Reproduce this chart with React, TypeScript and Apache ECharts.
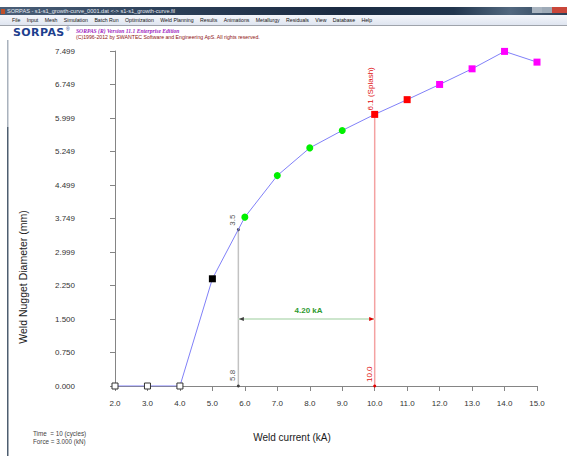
import React, { useEffect, useRef } from "react";
import * as echarts from "echarts";

// ---- data ----
const currents = [2, 3, 4, 5, 6, 7, 8, 9, 10, 11, 12, 13, 14, 15];
const diameters = [0, 0, 0, 2.4, 3.78, 4.71, 5.33, 5.72, 6.08, 6.41, 6.75, 7.1, 7.49, 7.25];
const pointKinds = [
  "none", "none", "none", "small", "good", "good", "good", "good",
  "splash", "splash", "expulsion", "expulsion", "expulsion", "expulsion",
];
const xTickLabels = ["2.0", "3.0", "4.0", "5.0", "6.0", "7.0", "8.0", "9.0", "10.0", "11.0", "12.0", "13.0", "14.0", "15.0"];
const yTickLabels = ["0.000", "0.750", "1.500", "2.250", "2.999", "3.749", "4.499", "5.249", "5.999", "6.749", "7.499"];
const minCurrent = 5.8;
const minDiameter = 3.5;
const splashCurrent = 10.0;
const splashDiameter = 6.08;
const rangeLevel = 1.5;
const rangeText = "4.20 kA";
const minDiameterText = "3.5";
const minCurrentText = "5.8";
const splashCurrentText = "10.0";
const splashText = "6.1 (Splash)";
const infoLines = ["Time  = 10 (cycles)", "Force = 3.000 (kN)"];
const menuItems = [
  "File", "Input", "Mesh", "Simulation", "Batch Run", "Optimization", "Weld Planning",
  "Results", "Animations", "Metallurgy", "Residuals", "View", "Database", "Help",
];
const windowTitle = "SORPAS - s1-s1_growth-curve_0001.dat <-> s1-s1_growth-curve.fil";
const versionText = "SORPAS (R) Version 11.1 Enterprise Edition";
const copyrightText = "(C)1996-2012 by SWANTEC Software and Engineering ApS. All rights reserved.";

const kindStyles: Record<string, { symbol: string; color: string; border: string; bw: number }> = {
  none: { symbol: "rect", color: "#ffffff", border: "#333333", bw: 1 },
  small: { symbol: "rect", color: "#000000", border: "#000000", bw: 0 },
  good: { symbol: "circle", color: "#00f000", border: "#00f000", bw: 0 },
  splash: { symbol: "rect", color: "#ff0000", border: "#ff0000", bw: 0 },
  expulsion: { symbol: "rect", color: "#ff00ff", border: "#ff00ff", bw: 0 },
};

const FONT = '"Liberation Sans", Arial, sans-serif';

export default function App() {
  const ref = useRef<HTMLDivElement>(null);

  useEffect(() => {
    if (!ref.current) return;
    const chart = echarts.init(ref.current, undefined, { renderer: "svg" });
    const yMax = 7.499;
    const yStep = yMax / 10;

    const mainData = currents.map((c, i) => {
      const s = kindStyles[pointKinds[i]];
      return {
        value: [c, diameters[i]],
        symbol: s.symbol,
        symbolSize: s.bw ? 6 : 7,
        itemStyle: { color: s.color, borderColor: s.border, borderWidth: s.bw },
      };
    });

    chart.setOption({
      animation: false,
      backgroundColor: "transparent",
      grid: { left: 115, right: 30, top: 51, bottom: 70 },
      xAxis: {
        type: "value",
        min: 2,
        max: 15,
        interval: 1,
        axisLine: { show: true, onZero: false, lineStyle: { color: "#858585", width: 1 } },
        axisTick: { show: true, length: 5, lineStyle: { color: "#858585" } },
        splitLine: { show: false },
        axisLabel: {
          margin: 13,
          fontSize: 8,
          color: "#333333",
          fontFamily: FONT,
          formatter: (v: number) => xTickLabels[Math.round(v - 2)] ?? "",
        },
      },
      yAxis: {
        type: "value",
        min: 0,
        max: yMax,
        interval: yStep,
        axisLine: { show: true, onZero: false, lineStyle: { color: "#858585", width: 1 } },
        axisTick: { show: true, length: 5, lineStyle: { color: "#858585" } },
        splitLine: { show: false },
        axisLabel: {
          margin: 40,
          fontSize: 8,
          color: "#333333",
          fontFamily: FONT,
          formatter: (v: number) => yTickLabels[Math.round(v / yStep)] ?? "",
        },
      },
      series: [
        {
          type: "line",
          data: [[minCurrent, minDiameter], [minCurrent, 0]],
          lineStyle: { color: "#c2c2c2", width: 1.5 },
          symbol: "circle",
          symbolSize: 3,
          itemStyle: { color: "#404040" },
          z: 2,
          silent: true,
        },
        {
          type: "line",
          data: [[splashCurrent, splashDiameter], [splashCurrent, 0]],
          lineStyle: { color: "#f4a2a2", width: 1.5 },
          symbol: "circle",
          symbolSize: 3,
          itemStyle: { color: "#e00000" },
          z: 2,
          silent: true,
        },
        {
          type: "line",
          data: [
            { value: [minCurrent, rangeLevel], symbol: "triangle", symbolRotate: 90, symbolSize: [4, 5], symbolOffset: [3, 0], itemStyle: { color: "#404040" } },
            { value: [splashCurrent, rangeLevel], symbol: "triangle", symbolRotate: -90, symbolSize: [4, 5], symbolOffset: [-3, 0], itemStyle: { color: "#e00000" } },
          ],
          lineStyle: { color: "#cde6cd", width: 2 },
          z: 2,
          silent: true,
        },
        {
          type: "line",
          data: mainData,
          lineStyle: { color: "#8080f8", width: 1 },
          z: 5,
          silent: true,
        },
      ],
    });

    const px = (x: number, y: number) => chart.convertToPixel({ gridIndex: 0 }, [x, y]) as number[];
    const pMin = px(minCurrent, minDiameter);
    const pMin0 = px(minCurrent, 0);
    const pSp = px(splashCurrent, splashDiameter);
    const pSp0 = px(splashCurrent, 0);
    const pR1 = px(minCurrent, rangeLevel);
    const pR2 = px(splashCurrent, rangeLevel);
    const rot = Math.PI / 2;
    const small = (text: string, x: number, y: number, color: string) => ({
      type: "text",
      x,
      y,
      rotation: rot,
      style: { text, fill: color, fontSize: 8, fontFamily: FONT, align: "left", verticalAlign: "middle" },
      silent: true,
    });

    chart.setOption({
      graphic: [
        { type: "rect", shape: { x: 7, y: 40, width: 1.5, height: 87 }, style: { fill: "#a9b2bd" }, silent: true },
        { type: "rect", shape: { x: 7, y: 127, width: 1.5, height: 329 }, style: { fill: "#4e5e70" }, silent: true },
        {
          type: "text",
          x: 23,
          y: 277,
          rotation: rot,
          style: { text: "Weld Nugget Diameter (mm)", fill: "#1a1a1a", fontSize: 10.5, fontFamily: FONT, align: "center", verticalAlign: "middle" },
          silent: true,
        },
        {
          type: "text",
          x: 292,
          y: 437,
          style: { text: "Weld current (kA)", fill: "#1a1a1a", fontSize: 10, fontFamily: FONT, align: "center", verticalAlign: "middle" },
          silent: true,
        },
        {
          type: "text",
          x: 33,
          y: 433,
          style: { text: infoLines[0], fill: "#444444", fontSize: 6.3, fontFamily: FONT, align: "left", verticalAlign: "middle" },
          silent: true,
        },
        {
          type: "text",
          x: 33,
          y: 441.5,
          style: { text: infoLines[1], fill: "#444444", fontSize: 6.3, fontFamily: FONT, align: "left", verticalAlign: "middle" },
          silent: true,
        },
        small(minDiameterText, pMin[0] - 6, pMin[1] - 4, "#555555"),
        small(minCurrentText, pMin0[0] - 6, pMin0[1] - 5, "#555555"),
        small(splashText, pSp[0] - 4.5, pSp[1] - 4, "#e01010"),
        small(splashCurrentText, pSp0[0] - 5.5, pSp0[1] - 4, "#e01010"),
        {
          type: "text",
          x: (pR1[0] + pR2[0]) / 2 + 2,
          y: pR1[1] - 8,
          style: { text: rangeText, fill: "#2f9a2f", fontSize: 8, fontWeight: "bold", fontFamily: FONT, align: "center", verticalAlign: "middle" },
          silent: true,
        },
      ],
    });

    return () => chart.dispose();
  }, []);

  return (
    <div style={{ position: "absolute", left: 0, top: 0, width: 567, height: 456, background: "#ffffff", overflow: "hidden" }}>
      <div ref={ref} style={{ position: "absolute", left: 0, top: 0, width: 567, height: 456 }} />
      {/* title bar */}
      <div
        style={{
          position: "absolute", left: 0, top: 7, width: 567, height: 8,
          background: "linear-gradient(90deg, #4a5f78 0%, #2b3f58 30%, #1b2b42 60%, #22364e 80%, #52687f 90%, #2a3e56 100%)",
        }}
      >
        <div style={{ position: "absolute", left: 1, top: 1.5, width: 4, height: 5, background: "#c0502a" }} />
        <div style={{ position: "absolute", left: 7, top: 0, height: 8, lineHeight: "8px", fontSize: 5.6, color: "#e6e9f0", fontFamily: FONT, whiteSpace: "nowrap" }}>
          {windowTitle}
        </div>
        <div style={{ position: "absolute", left: 532, top: 0, width: 10, height: 6, background: "#a9b4c0" }} />
        <div style={{ position: "absolute", left: 542, top: 0, width: 10, height: 6, background: "#9eaab7" }} />
        <div style={{ position: "absolute", left: 552, top: 0, width: 15, height: 6, background: "#c9463a" }} />
      </div>
      {/* menu bar */}
      <div
        style={{
          position: "absolute", left: 0, top: 15, width: 567, height: 11,
          background: "linear-gradient(180deg, #f4f6fb 0%, #dfe5f0 100%)",
          borderBottom: "1px solid #9ea3ab",
          display: "flex", alignItems: "center", paddingLeft: 12, boxSizing: "border-box",
          fontFamily: FONT, fontSize: 5.2, color: "#151515", whiteSpace: "nowrap", gap: 6.4,
        }}
      >
        {menuItems.map((m) => (
          <span key={m}>{m}</span>
        ))}
      </div>
      {/* logo */}
      <div
        style={{
          position: "absolute", left: 13, top: 26, fontFamily: '"DejaVu Sans", sans-serif', fontWeight: "bold",
          fontSize: 11, letterSpacing: 0.4, color: "#1e3f8e", lineHeight: "13px",
        }}
      >
        SORPAS
      </div>
      <div style={{ position: "absolute", left: 66, top: 26, fontSize: 5, color: "#1e3f8e", fontFamily: FONT }}>®</div>
      <div
        style={{
          position: "absolute", left: 76, top: 27.5, fontFamily: '"Liberation Serif", serif', fontStyle: "italic",
          fontWeight: "bold", fontSize: 5.6, color: "#a01cc0", lineHeight: "6px", whiteSpace: "nowrap",
        }}
      >
        {versionText}
      </div>
      <div
        style={{
          position: "absolute", left: 76, top: 33.5, fontFamily: FONT, fontSize: 5.2, color: "#8e1212",
          lineHeight: "6px", whiteSpace: "nowrap",
        }}
      >
        {copyrightText}
      </div>
    </div>
  );
}
